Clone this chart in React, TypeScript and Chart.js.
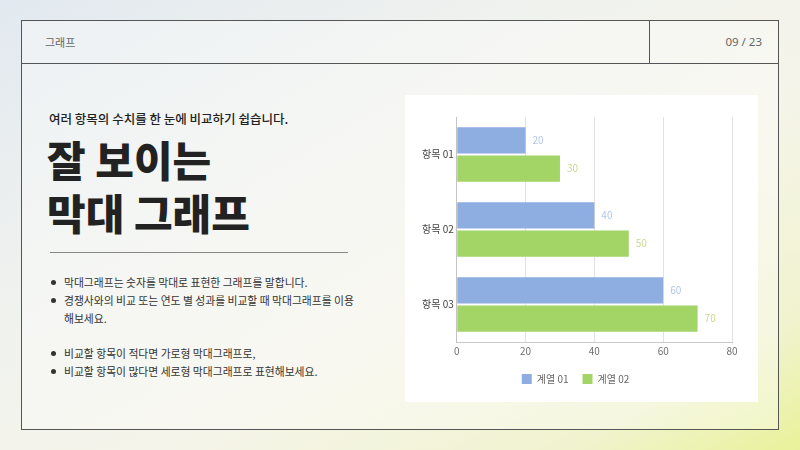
import React, { useEffect, useRef } from "react";
import { Chart, registerables } from "chart.js";

Chart.register(...registerables);

const categories = ["항목 01", "항목 02", "항목 03"];
const series1Name = "계열 01";
const series2Name = "계열 02";
const series1Values = [20, 40, 60];
const series2Values = [30, 50, 70];
const xTicks = [0, 20, 40, 60, 80];

const bullets1 = [
  "막대그래프는 숫자를 막대로 표현한 그래프를 말합니다.",
  "경쟁사와의 비교 또는 연도 별 성과를 비교할 때 막대그래프를 이용\n해보세요.",
];
const bullets2 = [
  "비교할 항목이 적다면 가로형 막대그래프로,",
  "비교할 항목이 많다면 세로형 막대그래프로 표현해보세요.",
];

const FONT = '"Noto Sans CJK KR", "Noto Sans", sans-serif';

const valueLabelPlugin = {
  id: "valueLabels",
  afterDatasetsDraw(chart: any) {
    const { ctx } = chart;
    const labelColors = ["#b3c5ea", "#c9d98e"];
    chart.data.datasets.forEach((ds: any, di: number) => {
      const meta = chart.getDatasetMeta(di);
      meta.data.forEach((bar: any, i: number) => {
        ctx.save();
        ctx.font = `10px ${FONT}`;
        ctx.fillStyle = labelColors[di];
        ctx.textAlign = "left";
        ctx.textBaseline = "middle";
        ctx.fillText(String(ds.data[i]), bar.x + 7, bar.y);
        ctx.restore();
      });
    });
  },
};

function BarChart() {
  const ref = useRef<HTMLCanvasElement>(null);
  useEffect(() => {
    if (!ref.current) return;
    const chart = new Chart(ref.current, {
      type: "bar",
      data: {
        labels: categories,
        datasets: [
          {
            label: series1Name,
            data: series1Values,
            backgroundColor: "#8eaee2",
            categoryPercentage: 0.75,
            barPercentage: 0.93,
          },
          {
            label: series2Name,
            data: series2Values,
            backgroundColor: "#a3d466",
            categoryPercentage: 0.75,
            barPercentage: 0.93,
          },
        ],
      },
      options: {
        indexAxis: "y",
        animation: false,
        responsive: false,
        layout: { padding: { left: 14, right: 26, top: 22, bottom: 8 } },
        scales: {
          x: {
            min: 0,
            max: 80,
            afterBuildTicks: (axis: any) => {
              axis.ticks = xTicks.map((v) => ({ value: v }));
            },
            grid: { color: "#e2e2e2", drawTicks: false },
            border: { color: "#c8c8c8" },
            ticks: { color: "#6f6f6f", font: { size: 10, family: FONT }, padding: 3 },
          },
          y: {
            grid: { color: "rgba(0,0,0,0)", drawTicks: false },
            border: { color: "#c4c4c4" },
            ticks: { color: "#444", font: { size: 10, family: FONT }, padding: 3 },
          },
        },
        plugins: {
          legend: {
            position: "bottom",
            labels: {
              boxWidth: 10,
              boxHeight: 10,
              color: "#666",
              font: { size: 10, family: FONT },
              padding: 14,
            },
          },
          tooltip: { enabled: false },
        },
      },
      plugins: [valueLabelPlugin],
    });
    return () => chart.destroy();
  }, []);
  return <canvas ref={ref} width={353} height={307} style={{ display: "block" }} />;
}

export default function App() {
  const bulletStyle: React.CSSProperties = {
    position: "relative",
    paddingLeft: 15,
    whiteSpace: "pre-line",
  };
  const dot = (
    <span
      style={{
        position: "absolute",
        left: 2,
        top: 6.5,
        width: 5,
        height: 5,
        borderRadius: 3,
        background: "#333",
      }}
    />
  );
  return (
    <div
      style={{
        position: "absolute",
        left: 0,
        top: 0,
        width: 800,
        height: 450,
        overflow: "hidden",
        fontFamily: FONT,
        background:
          "linear-gradient(150deg, #e2e9f0 0%, #f0f2ee 35%, #f5f4ea 60%, #f1f3cf 85%, #e9f29a 100%)",
      }}
    >
      <div
        style={{
          position: "absolute",
          left: 21,
          top: 20,
          width: 758,
          height: 410,
          boxSizing: "border-box",
          border: "1.5px solid #555",
          background: "rgba(255,255,255,0.35)",
        }}
      />
      <div style={{ position: "absolute", left: 21, top: 63, width: 758, height: 0, borderTop: "1.5px solid #555" }} />
      <div style={{ position: "absolute", left: 649, top: 20, width: 0, height: 43, borderLeft: "1.5px solid #555" }} />
      <div style={{ position: "absolute", left: 45, top: 34, fontSize: 11, color: "#666" }}>그래프</div>
      <div style={{ position: "absolute", right: 38, top: 34, fontSize: 11.5, color: "#666", fontFamily: '"Noto Sans", sans-serif' }}>09 / 23</div>

      <div style={{ position: "absolute", left: 49, top: 109, fontSize: 12.5, fontWeight: 500, color: "#222" }}>
        여러 항목의 수치를 한 눈에 비교하기 쉽습니다.
      </div>
      <div style={{ position: "absolute", left: 47, top: 132, fontSize: 42, fontWeight: 800, color: "#222", lineHeight: "53px" }}>
        잘 보이는
        <br />
        막대 그래프
      </div>
      <div style={{ position: "absolute", left: 50, top: 252, width: 298, height: 0, borderTop: "1px solid #888" }} />

      <div style={{ position: "absolute", left: 49, top: 273, fontSize: 10.8, color: "#333", lineHeight: "18px", width: 340 }}>
        {bullets1.map((b, i) => (
          <div key={i} style={bulletStyle}>
            {dot}
            {b}
          </div>
        ))}
        <div style={{ height: 17 }} />
        {bullets2.map((b, i) => (
          <div key={i} style={bulletStyle}>
            {dot}
            {b}
          </div>
        ))}
      </div>

      <div style={{ position: "absolute", left: 405, top: 95, width: 353, height: 307, background: "#fff" }}>
        <BarChart />
      </div>
    </div>
  );
}
